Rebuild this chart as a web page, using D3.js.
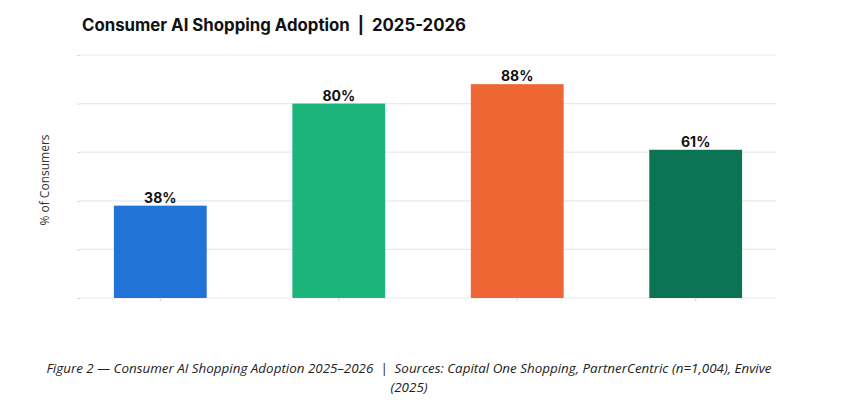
<!DOCTYPE html>
<html>
<head>
<meta charset="utf-8">
<script src="https://cdn.jsdelivr.net/npm/d3@7"></script>
<style>
  html, body { margin: 0; padding: 0; background: #fff; }
  svg { display: block; }
</style>
</head>
<body>
<svg id="chart" width="841" height="407"></svg>
<script>
const categories = ["Bar 1", "Bar 2", "Bar 3", "Bar 4"];
const values = [38, 80, 88, 61];
const colors = ["#2273D8", "#1BB47A", "#EE6634", "#0B7455"];
const yTicks = [0, 20, 40, 60, 80, 100];
const title = "Consumer AI Shopping Adoption  |  2025-2026";
const yLabel = "% of Consumers";
const captionLines = [
  "Figure 2 \u2014 Consumer AI Shopping Adoption 2025\u20132026  |  Sources: Capital One Shopping, PartnerCentric (n=1,004), Envive",
  "(2025)"
];

const svg = d3.select("#chart");
const mLeft = 80, mRight = 776, mTop = 55, mBottom = 298;

const x = d3.scaleBand().domain(categories).range([mLeft, mRight]).paddingInner(0.48).paddingOuter(0.19);
const y = d3.scaleLinear().domain([0, 100]).range([mBottom, mTop]);

// gridlines
svg.append("g")
  .selectAll("line")
  .data(yTicks)
  .join("line")
  .attr("x1", mLeft).attr("x2", mRight)
  .attr("y1", d => y(d)).attr("y2", d => y(d))
  .attr("stroke", "#e9e9e9").attr("stroke-width", 1.2);

// y axis ticks (no labels)
const yAxis = svg.append("g").attr("transform", `translate(${mLeft},0)`)
  .call(d3.axisLeft(y).tickValues(yTicks).tickSize(3).tickFormat(""));
yAxis.select(".domain").remove();
yAxis.selectAll(".tick line").attr("stroke", "#d8d8d8");

// x axis ticks (no labels)
const xAxis = svg.append("g").attr("transform", `translate(0,${mBottom})`)
  .call(d3.axisBottom(x).tickSize(3).tickFormat(""));
xAxis.select(".domain").remove();
xAxis.selectAll(".tick line").attr("stroke", "#d0d0d0");

// bars
svg.append("g")
  .selectAll("rect")
  .data(values)
  .join("rect")
  .attr("x", (d, i) => x(categories[i]))
  .attr("width", x.bandwidth())
  .attr("y", d => y(d))
  .attr("height", d => y(0) - y(d))
  .attr("fill", (d, i) => colors[i]);

// value labels
svg.append("g")
  .selectAll("text")
  .data(values)
  .join("text")
  .attr("x", (d, i) => x(categories[i]) + x.bandwidth() / 2)
  .attr("y", d => y(d) - 3)
  .attr("text-anchor", "middle")
  .attr("font-family", "Inter, 'Noto Sans', sans-serif")
  .attr("font-weight", 700)
  .attr("font-size", 14)
  .attr("fill", "#111")
  .text(d => d + "%");

// title
svg.append("text")
  .attr("x", 82).attr("y", 31)
  .attr("font-family", "Inter, 'Noto Sans', sans-serif")
  .attr("font-weight", 700)
  .attr("font-size", 16.8)
  .attr("fill", "#111")
  .style("white-space", "pre")
  .text(title);

// y label
svg.append("text")
  .attr("transform", `translate(49,180) rotate(-90)`)
  .attr("text-anchor", "middle")
  .attr("font-family", "'Open Sans', sans-serif")
  .attr("font-size", 12)
  .attr("fill", "#333")
  .text(yLabel);

// caption (two lines)
svg.append("text")
  .attr("text-anchor", "middle")
  .attr("font-family", "'Open Sans', sans-serif")
  .attr("font-style", "italic")
  .attr("font-size", 13.4)
  .attr("fill", "#222")
  .style("white-space", "pre")
  .selectAll("tspan")
  .data(captionLines)
  .join("tspan")
  .attr("x", 409)
  .attr("y", (d, i) => 373 + i * 19)
  .text(d => d);
</script>
</body>
</html>
